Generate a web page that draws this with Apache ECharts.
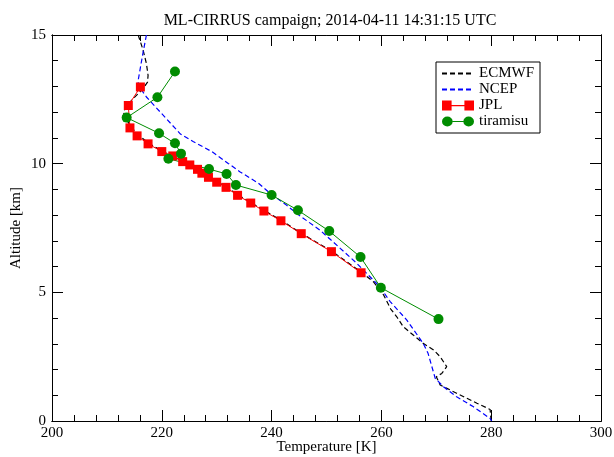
<!DOCTYPE html>
<html>
<head>
<meta charset="utf-8">
<script src="https://cdn.jsdelivr.net/npm/echarts@6/dist/echarts.min.js"></script>
<style>
html,body{margin:0;padding:0;background:#fff;}
#chart{width:614px;height:457px;}
</style>
</head>
<body>
<div id="chart"></div>
<script>
// ---- data (temperature [K], altitude [km]) ----
var ecmwfT = [215.7, 216.6, 217.2, 217.5, 217.4, 216.6, 213.9, 213.0, 213.3, 214.5, 215.9, 217.8, 220.2, 224.0, 226.7, 228.7, 231.9, 234.0, 236.4, 238.8, 241.9, 245.5, 251.1, 256.5, 258.6, 260.4, 261.7, 262.8, 264.0, 265.8, 267.6, 269.5, 270.7, 271.9, 271.0, 270.0, 270.7, 273.7, 277.4, 279.8, 280.0];
var ecmwfH = [15.0, 14.41, 13.89, 13.43, 13.17, 12.92, 12.33, 12.01, 11.81, 11.40, 11.08, 10.77, 10.47, 10.08, 9.78, 9.47, 9.08, 8.77, 8.47, 8.16, 7.78, 7.28, 6.58, 5.76, 5.40, 4.90, 4.35, 4.05, 3.66, 3.34, 3.02, 2.76, 2.50, 2.11, 1.85, 1.72, 1.40, 1.08, 0.69, 0.45, 0.0];

var ncepT = [217.2, 216.6, 215.7, 215.7, 217.2, 219.7, 222.5, 223.4, 225.7, 229.1, 232.1, 234.2, 237.6, 239.7, 242.7, 244.9, 248.8, 252.5, 255.5, 259.7, 261.6, 264.6, 267.6, 268.5, 269.8, 271.3, 273.7, 276.7, 279.8, 280.1];
var ncepH = [15.0, 14.34, 13.24, 13.05, 12.59, 12.01, 11.36, 11.15, 10.86, 10.47, 10.01, 9.69, 9.24, 8.85, 8.39, 8.01, 7.42, 6.71, 6.13, 5.22, 4.64, 3.93, 3.02, 2.63, 1.66, 1.33, 0.94, 0.56, 0.10, 0.0];

var jplT = [216.1, 213.9, 214.2, 215.5, 217.5, 220.0, 222.0, 223.8, 225.1, 226.5, 227.3, 228.5, 230.0, 231.7, 233.8, 236.2, 238.6, 241.7, 245.4, 250.9, 256.3];
var jplH = [12.98, 12.26, 11.39, 11.08, 10.77, 10.47, 10.30, 10.08, 9.95, 9.78, 9.63, 9.47, 9.28, 9.08, 8.77, 8.47, 8.16, 7.78, 7.28, 6.58, 5.76];

var tiraT = [222.4, 219.2, 213.6, 219.5, 222.4, 223.5, 221.2, 228.6, 231.8, 233.5, 240.0, 244.8, 250.5, 256.2, 259.9, 270.4];
var tiraH = [13.58, 12.58, 11.79, 11.18, 10.79, 10.39, 10.19, 9.79, 9.60, 9.17, 8.78, 8.19, 7.38, 6.37, 5.18, 3.96];

var xTicks = [200, 220, 240, 260, 280, 300];
var yTicks = [0, 5, 10, 15];

function pairs(xs, ys) { return xs.map(function (x, i) { return [x, ys[i]]; }); }

var FONT = '"Liberation Serif", "DejaVu Serif", serif';
var W = 614, H = 457;
var GL = 52, GR = 13, GT = 35, GB = 36;
var GW = W - GL - GR, GH = H - GT - GB;
var chart = echarts.init(document.getElementById('chart'), null, { renderer: 'canvas' });

var LINE = { show: true, onZero: false, lineStyle: { color: '#000', width: 1 } };
var TXT = { color: '#000', fontFamily: FONT, fontSize: 15 };

function xBase(grid, pos) {
  return { type: 'value', gridIndex: grid, position: pos,
    min: xTicks[0], max: xTicks[xTicks.length - 1], interval: 20,
    axisLine: LINE, axisTick: { show: false }, minorTick: { show: false },
    splitLine: { show: false }, axisLabel: { show: false } };
}
function yBase(grid, pos) {
  return { type: 'value', gridIndex: grid, position: pos,
    min: yTicks[0], max: yTicks[yTicks.length - 1], interval: 5,
    axisLine: LINE, axisTick: { show: false }, minorTick: { show: false },
    splitLine: { show: false }, axisLabel: { show: false } };
}
// frame ticks: axes of thin helper grids placed against each side of the plot, ticks pointing into it
function ticked(ax) {
  ax.axisTick = { show: true, inside: false, length: 11, lineStyle: { color: '#000', width: 1 } };
  ax.minorTick = { show: true, splitNumber: 5, length: 6, lineStyle: { color: '#000', width: 1 } };
  return ax;
}
function hidden(ax) { ax.show = false; return ax; }

var xMain = xBase(0, 'bottom');
xMain.axisLabel = { show: true, color: '#000', fontFamily: FONT, fontSize: 15, margin: 5 };
xMain.name = 'Temperature [K]'; xMain.nameLocation = 'middle'; xMain.nameGap = 19;
xMain.nameMoveOverlap = false; xMain.nameTextStyle = TXT;
var yMain = yBase(0, 'left');
yMain.axisLabel = { show: true, color: '#000', fontFamily: FONT, fontSize: 15, margin: 6 };
yMain.name = 'Altitude [km]'; yMain.nameLocation = 'middle'; yMain.nameGap = 28; yMain.nameRotate = 90;
yMain.nameMoveOverlap = false; yMain.nameTextStyle = TXT;

var SQ2 = 'path://M0,0L9,0L9,9L0,9Z M9,4L21,4L21,5.2L9,5.2Z M21,0L30,0L30,9L21,9Z';
var CI2 = 'path://M0,5A5,5 0 1,0 10,5A5,5 0 1,0 0,5Z M10,4.4L20,4.4L20,5.6L10,5.6Z M20,5A5,5 0 1,0 30,5A5,5 0 1,0 20,5Z';

chart.setOption({
  animation: false,
  backgroundColor: '#fff',
  title: {
    text: 'ML-CIRRUS campaign; 2014-04-11 14:31:15 UTC',
    left: 325, top: 8, textAlign: 'center',
    textStyle: { color: '#000', fontFamily: FONT, fontSize: 16, fontWeight: 'normal' }
  },
  grid: [
    { left: GL, right: GR, top: GT, bottom: GB, containLabel: false, outerBoundsMode: 'none' },
    { left: GL, right: GR, top: GT + GH, height: 10, containLabel: false, outerBoundsMode: 'none' },
    { left: GL, right: GR, top: GT - 10, height: 10, containLabel: false, outerBoundsMode: 'none' },
    { left: 0, width: GL, top: GT, bottom: GB, containLabel: false, outerBoundsMode: 'none' },
    { left: GL + GW, width: GR, top: GT, bottom: GB, containLabel: false, outerBoundsMode: 'none' }
  ],
  xAxis: [
    xMain,
    xBase(0, 'top'),
    ticked(xBase(1, 'top')),
    ticked(xBase(2, 'bottom')),
    hidden(xBase(3, 'bottom')),
    hidden(xBase(4, 'bottom'))
  ],
  yAxis: [
    yMain,
    yBase(0, 'right'),
    hidden(yBase(1, 'left')),
    hidden(yBase(2, 'left')),
    ticked(yBase(3, 'right')),
    ticked(yBase(4, 'left'))
  ],
  legend: {
    orient: 'vertical', left: 436, top: 62,
    backgroundColor: '#fff', borderColor: '#000', borderWidth: 1,
    padding: [4, 6, 4, 5], itemGap: 1, itemWidth: 32, itemHeight: 10,
    symbolKeepAspect: false,
    textStyle: TXT,
    data: [
      { name: 'ECMWF', itemStyle: { opacity: 0 } },
      { name: 'NCEP', itemStyle: { opacity: 0 } },
      { name: 'JPL', icon: SQ2 },
      { name: 'tiramisu', icon: CI2 }
    ]
  },
  series: [
    { name: 'ECMWF', type: 'line', data: pairs(ecmwfT, ecmwfH), symbol: 'none', clip: true,
      lineStyle: { color: '#000', width: 1.2, type: [5, 3] }, itemStyle: { color: '#000' } },
    { name: 'NCEP', type: 'line', data: pairs(ncepT, ncepH), symbol: 'none', clip: true,
      lineStyle: { color: '#0000ff', width: 1.2, type: [5, 3] }, itemStyle: { color: '#0000ff' } },
    { name: 'JPL', type: 'line', data: pairs(jplT, jplH), symbol: 'rect', symbolSize: 9,
      lineStyle: { color: '#ff0000', width: 1 }, itemStyle: { color: '#ff0000' } },
    { name: 'tiramisu', type: 'line', data: pairs(tiraT, tiraH), symbol: 'circle', symbolSize: 10,
      lineStyle: { color: '#008c00', width: 1 }, itemStyle: { color: '#008c00' } }
  ]
});
</script>
</body>
</html>
